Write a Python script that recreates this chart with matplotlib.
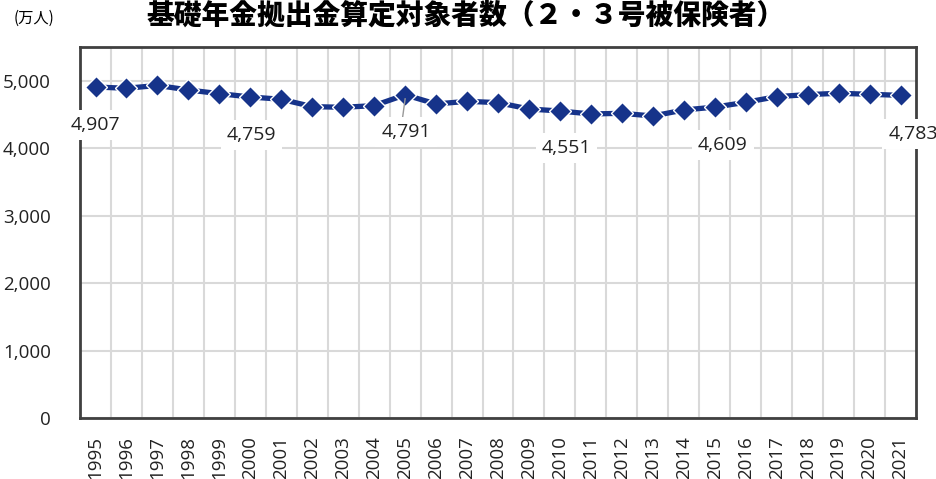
import numpy as np
import matplotlib.pyplot as plt

plt.rcParams['font.family'] = ['Open Sans', 'Noto Sans CJK JP', 'DejaVu Sans']

# データ（万人）
years = [str(y) for y in range(1995, 2022)]
values = [4907, 4888, 4930, 4863, 4808, 4759, 4725, 4616, 4606, 4631,
          4791, 4655, 4695, 4675, 4581, 4551, 4507, 4517, 4477, 4566,
          4609, 4680, 4764, 4794, 4814, 4799, 4783]
label_years = ['1995', '2000', '2005', '2010', '2015', '2021']

fig = plt.figure(figsize=(9.37, 4.79), dpi=100)
ax = fig.add_axes([0.0854, 0.1273, 0.8922, 0.7746])

x = np.arange(len(years))
ax.plot(x, values, color='#16338a', lw=3.8, marker='D', ms=11,
        mfc='#16338a', mec='white', mew=1.0, zorder=4)

ax.set_xlim(-0.5, len(years) - 0.5)
ax.set_ylim(0, 5500)
ax.set_yticks(range(0, 5001, 1000))
ax.set_yticklabels([f'{v:,}' for v in range(0, 5001, 1000)], fontsize=13.5,
                   color='#222222')
ax.set_xticks(x)
ax.set_xticklabels(years, rotation=90, fontsize=13.5, color='#222222')
ax.set_xticks(x[:-1] + 0.5, minor=True)
ax.tick_params(axis='both', which='both', length=0)
ax.tick_params(axis='y', which='major', pad=21)
ax.tick_params(axis='x', which='major', pad=13)

ax.grid(axis='y', color='#d9d9d9', lw=1.5, zorder=0)
ax.grid(axis='x', which='minor', color='#d9d9d9', lw=1.5, zorder=0)
for s in ax.spines.values():
    s.set_color('#404040')
    s.set_linewidth(2)

# データラベル（位置のずれ：カテゴリ単位, 値単位）
offsets = {'1995': (0.0, -563), '2000': (0.05, -563), '2005': (0.03, -551),
           '2010': (0.2, -548), '2015': (0.26, -562), '2021': (0.4, -573)}
for yr in label_years:
    i = years.index(yr)
    v = values[i]
    dx, dy = offsets[yr]
    ax.text(i + dx, v + dy, f'{v:,}', ha='center', va='center', fontsize=14,
            color='#222222', zorder=6, clip_on=False,
            bbox=dict(boxstyle='square,pad=0.3', fc='white', ec='none'))
    if yr == '2005':
        ax.plot([i, i - 0.08], [v - 60, v - 330], color='#999999', lw=1, zorder=5)

fig.text(0.497, 0.969, '基礎年金拠出金算定対象者数（２・３号被保険者）',
         ha='center', va='center', fontsize=20, fontweight='heavy',
         family=['Noto Sans CJK JP', 'DejaVu Sans'])
fig.text(0.036, 0.962, '(万人)', ha='center', va='center', fontsize=11,
         family=['Noto Sans CJK JP', 'DejaVu Sans'])

fig.savefig('out.png', dpi=100)
